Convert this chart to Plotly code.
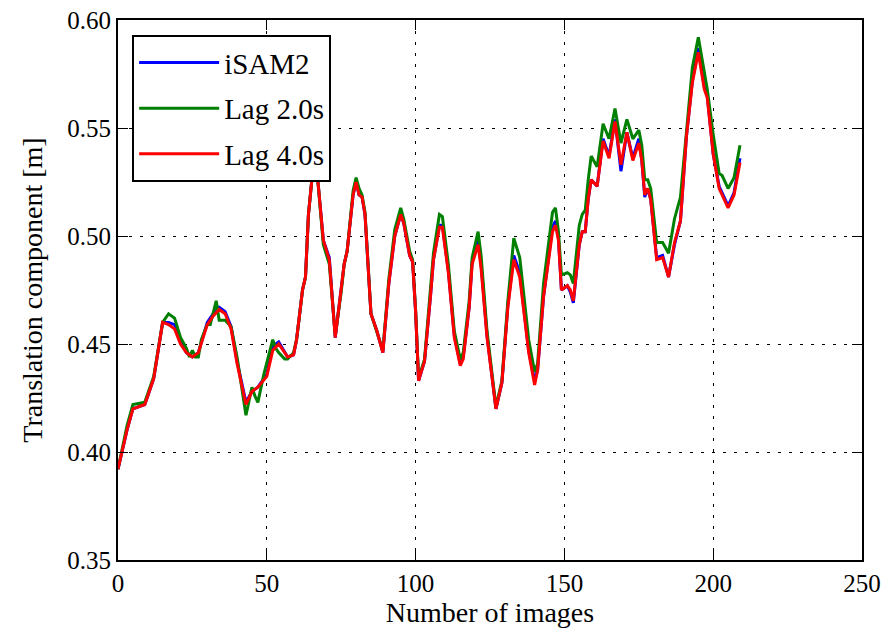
import plotly.graph_objects as go

# (image index, translation component [m]) for each estimator
isam2 = [
    (0, 0.392), (3, 0.410), (5, 0.420), (9, 0.422), (12, 0.434), (15, 0.460),
    (17, 0.460), (19, 0.459), (21, 0.451), (23, 0.446), (25, 0.444), (27, 0.446),
    (30, 0.460), (32, 0.464), (34, 0.467), (36, 0.465), (38, 0.458), (40, 0.442),
    (43, 0.423), (45, 0.428), (47, 0.430), (50, 0.436), (52, 0.449), (54, 0.451),
    (57, 0.444), (59, 0.445), (60, 0.452), (62, 0.475), (63, 0.481), (64, 0.510),
    (66, 0.538), (67, 0.528), (69, 0.498), (71, 0.490), (73, 0.453), (75, 0.474),
    (76, 0.487), (77, 0.493), (79, 0.519), (80, 0.525), (81, 0.519), (82, 0.518),
    (83, 0.510), (85, 0.464), (87, 0.456), (89, 0.446), (91, 0.478), (93, 0.500),
    (95, 0.510), (96, 0.506), (98, 0.491), (99, 0.488), (100, 0.465), (101, 0.433),
    (103, 0.442), (105, 0.472), (106, 0.489), (108, 0.505), (109, 0.505), (111, 0.484),
    (113, 0.454), (115, 0.441), (116, 0.444), (118, 0.467), (119, 0.488), (121, 0.498),
    (122, 0.487), (124, 0.454), (127, 0.420), (129, 0.432), (131, 0.468), (133, 0.491),
    (135, 0.483), (138, 0.447), (140, 0.433), (141, 0.438), (143, 0.472), (146, 0.504),
    (147, 0.507), (148, 0.499), (149, 0.475), (151, 0.477), (152, 0.474), (153, 0.469),
    (155, 0.496), (156, 0.502), (157, 0.502), (158, 0.517), (159, 0.526), (161, 0.523),
    (163, 0.545), (165, 0.537), (167, 0.554), (169, 0.530), (171, 0.548), (173, 0.536),
    (175, 0.545), (176, 0.535), (177, 0.518), (178, 0.522), (179, 0.517), (181, 0.490),
    (183, 0.491), (185, 0.481), (187, 0.496), (189, 0.507), (191, 0.546), (193, 0.572),
    (195, 0.587), (197, 0.569), (198, 0.565), (200, 0.538), (202, 0.523), (203, 0.520),
    (205, 0.514), (207, 0.520), (209, 0.536),
]

lag_2s = [
    (0, 0.392), (3, 0.412), (5, 0.422), (9, 0.423), (12, 0.435), (15, 0.460),
    (17, 0.464), (19, 0.462), (21, 0.453), (23, 0.448), (24, 0.444), (25, 0.447),
    (26, 0.444), (27, 0.444), (28, 0.452), (30, 0.459), (31, 0.459), (32, 0.464),
    (33, 0.470), (34, 0.461), (36, 0.461), (38, 0.458), (40, 0.444), (43, 0.417),
    (45, 0.430), (46, 0.426), (47, 0.423), (49, 0.436), (52, 0.452), (53, 0.448),
    (54, 0.446), (56, 0.443), (57, 0.443), (59, 0.446), (60, 0.452), (62, 0.475),
    (63, 0.481), (64, 0.510), (66, 0.538), (67, 0.528), (69, 0.496), (71, 0.487),
    (73, 0.454), (75, 0.474), (76, 0.487), (77, 0.493), (79, 0.521), (80, 0.527),
    (81, 0.522), (82, 0.519), (83, 0.511), (85, 0.464), (87, 0.456), (89, 0.447),
    (91, 0.480), (93, 0.503), (95, 0.513), (96, 0.508), (98, 0.493), (99, 0.489),
    (100, 0.466), (101, 0.434), (103, 0.443), (105, 0.475), (106, 0.492), (108, 0.510),
    (109, 0.509), (111, 0.487), (113, 0.456), (115, 0.443), (116, 0.446), (118, 0.470),
    (119, 0.490), (121, 0.502), (122, 0.491), (124, 0.456), (127, 0.421), (129, 0.433),
    (131, 0.470), (133, 0.499), (135, 0.490), (138, 0.452), (140, 0.437), (141, 0.441),
    (143, 0.478), (146, 0.511), (147, 0.513), (148, 0.502), (149, 0.482), (151, 0.483),
    (152, 0.482), (153, 0.478), (155, 0.505), (156, 0.510), (157, 0.512), (158, 0.526),
    (159, 0.537), (161, 0.532), (163, 0.552), (165, 0.545), (167, 0.559), (169, 0.543),
    (171, 0.554), (173, 0.545), (175, 0.549), (176, 0.542), (177, 0.526), (178, 0.526),
    (179, 0.522), (181, 0.497), (183, 0.497), (185, 0.492), (187, 0.508), (189, 0.518),
    (191, 0.550), (193, 0.578), (195, 0.592), (197, 0.575), (198, 0.568), (200, 0.547),
    (202, 0.529), (203, 0.528), (205, 0.522), (207, 0.527), (209, 0.542),
]

lag_4s = [
    (0, 0.392), (3, 0.410), (5, 0.420), (9, 0.422), (12, 0.434), (15, 0.460),
    (17, 0.459), (19, 0.457), (21, 0.450), (23, 0.446), (25, 0.444), (27, 0.446),
    (30, 0.459), (32, 0.463), (34, 0.466), (36, 0.464), (38, 0.457), (40, 0.441),
    (43, 0.422), (45, 0.428), (47, 0.430), (50, 0.435), (52, 0.447), (54, 0.450),
    (57, 0.444), (59, 0.445), (60, 0.452), (62, 0.475), (63, 0.481), (64, 0.510),
    (66, 0.538), (67, 0.528), (69, 0.498), (71, 0.489), (73, 0.453), (75, 0.474),
    (76, 0.487), (77, 0.493), (79, 0.519), (80, 0.525), (81, 0.519), (82, 0.518),
    (83, 0.510), (85, 0.464), (87, 0.456), (89, 0.446), (91, 0.478), (93, 0.500),
    (95, 0.510), (96, 0.506), (98, 0.491), (99, 0.488), (100, 0.465), (101, 0.433),
    (103, 0.442), (105, 0.472), (106, 0.489), (108, 0.504), (109, 0.504), (111, 0.483),
    (113, 0.453), (115, 0.440), (116, 0.443), (118, 0.467), (119, 0.487), (121, 0.496),
    (122, 0.485), (124, 0.453), (127, 0.420), (129, 0.432), (131, 0.467), (133, 0.489),
    (135, 0.481), (138, 0.446), (140, 0.431), (141, 0.438), (143, 0.472), (146, 0.502),
    (147, 0.505), (148, 0.498), (149, 0.475), (151, 0.477), (152, 0.475), (153, 0.470),
    (155, 0.496), (156, 0.502), (157, 0.502), (158, 0.517), (159, 0.526), (161, 0.523),
    (163, 0.544), (165, 0.536), (167, 0.553), (169, 0.533), (171, 0.548), (173, 0.535),
    (175, 0.543), (176, 0.535), (177, 0.519), (178, 0.522), (179, 0.517), (181, 0.489),
    (183, 0.490), (185, 0.481), (187, 0.497), (189, 0.507), (191, 0.546), (193, 0.571),
    (195, 0.585), (197, 0.568), (198, 0.564), (200, 0.538), (202, 0.522), (203, 0.519),
    (205, 0.513), (207, 0.519), (209, 0.534),
]

x_ticks = [0, 50, 100, 150, 200, 250]
y_ticks = [0.35, 0.40, 0.45, 0.50, 0.55, 0.60]

series = [
    ("iSAM2", isam2, "#0000ff"),
    ("Lag 2.0s", lag_2s, "#008000"),
    ("Lag 4.0s", lag_4s, "#ff0000"),
]

FONT = "Liberation Serif"

fig = go.Figure()
for name, pts, color in series:
    xs = [p[0] for p in pts]
    ys = [p[1] for p in pts]
    fig.add_trace(go.Scatter(
        x=xs, y=ys, mode="lines", name=name, legendgroup=name,
        line=dict(color=color, width=3),
    ))

axis_common = dict(
    showline=True, linecolor="black", linewidth=2, mirror="ticks",
    ticks="inside", ticklen=10, tickwidth=1, tickcolor="black",
    showgrid=True, gridcolor="black", gridwidth=1, griddash="3px,8px",
    zeroline=False,
    tickfont=dict(family=FONT, size=25, color="black"),
)

fig.update_xaxes(
    range=[0, 250], tickvals=x_ticks, ticktext=[str(v) for v in x_ticks],
    title=dict(text="Number of images", font=dict(family=FONT, size=28, color="black"), standoff=4),
    **axis_common,
)
fig.update_yaxes(
    range=[0.35, 0.60], tickvals=y_ticks, ticktext=[f"{v:.2f}" for v in y_ticks],
    title=dict(text="Translation component [m]", font=dict(family=FONT, size=28, color="black"), standoff=16),
    **axis_common,
)

fig.update_layout(
    width=889, height=637,
    margin=dict(l=118, r=27, t=20, b=77, autoexpand=False),
    plot_bgcolor="white", paper_bgcolor="white",
    font=dict(family=FONT, color="black"),
    legend=dict(
        x=0.019, y=0.972, xanchor="left", yanchor="top",
        bgcolor="white", bordercolor="black", borderwidth=2,
        font=dict(family=FONT, size=29, color="black"),
        tracegroupgap=5, itemwidth=80,
    ),
    showlegend=True,
)

fig.write_html("out.html")
